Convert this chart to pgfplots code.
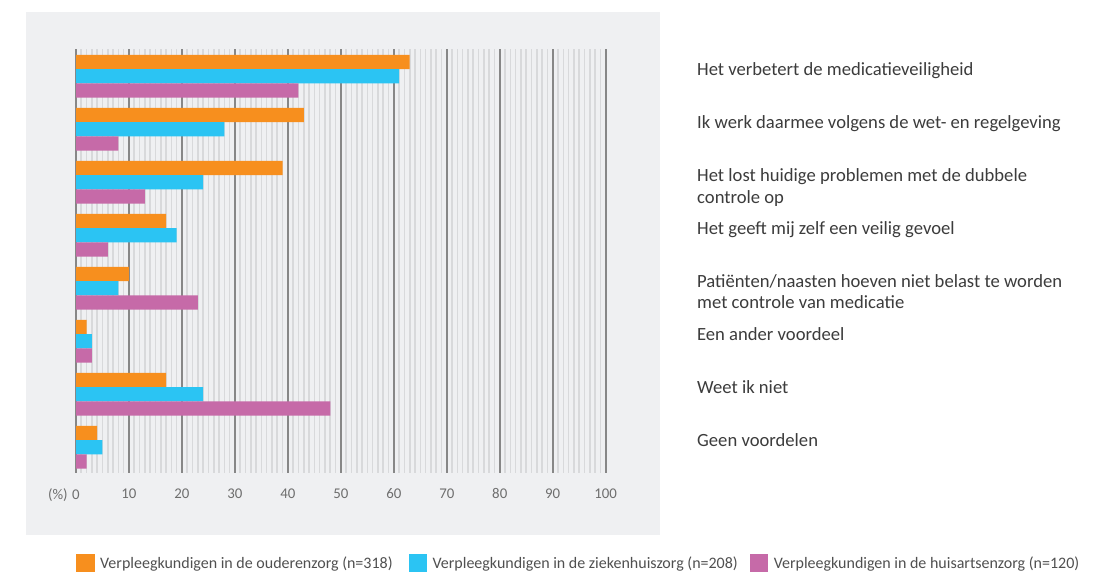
\documentclass[border=0pt]{standalone}
\usepackage{fontspec}
\setmainfont{Carlito}
\usepackage{pgfplots}
\pgfplotsset{compat=1.18}
\definecolor{cOr}{RGB}{247,143,30}
\definecolor{cBl}{RGB}{43,196,243}
\definecolor{cPu}{RGB}{198,106,168}
\definecolor{panel}{RGB}{239,240,242}
\definecolor{minorg}{RGB}{216,217,219}
\definecolor{majorg}{RGB}{135,135,135}
\definecolor{tickc}{RGB}{110,110,110}
\definecolor{txt}{RGB}{60,60,60}
\definecolor{legc}{RGB}{80,80,80}
\begin{document}
\begin{tikzpicture}[x=1bp,y=1bp]
\path[fill=white, use as bounding box] (0,0) rectangle (1119,575);
\fill[panel] (26,40) rectangle (660,563);
\begin{axis}[
  at={(76bp,102bp)}, anchor=south west, scale only axis,
  width=529.7bp, height=424bp,
  xbar, bar width=14.2bp,
  xmin=0, xmax=100, ymin=-0.5, ymax=7.5,
  axis line style={draw=none},
  xtick={0,10,...,100},
  xticklabels={\llap{(\%)\hspace{4.5bp}}0,10,20,30,40,50,60,70,80,90,100},
  minor x tick num=9,
  xmajorgrids, xminorgrids,
  major x grid style={majorg, line width=1.6bp},
  minor x grid style={minorg, line width=1.6bp},
  ytick=\empty,
  minor ytick={-0.5,0.5,...,7.5},
  yminorgrids,
  minor y grid style={white, line width=1.5bp},
  major tick length=0pt, minor tick length=0pt,
  tick label style={font=\fontsize{14.9}{16}\selectfont, text=tickc},
  xticklabel style={yshift=-12bp},
  /pgf/number format/assume math mode=true,
  legend columns=3,
  legend style={at={(0,-0.2123)}, anchor=west, draw=none, fill=none,
    inner sep=0pt, font=\fontsize{16.05}{18}\selectfont, text=legc,
    /tikz/every even column/.append style={column sep=10bp},
    /tikz/every odd column/.append style={column sep=3.4bp}},
  legend image code/.code={\fill[#1,draw=none] (0bp,-9.3bp) rectangle (18.6bp,9.3bp);},
]
\addplot[fill=cOr, draw=none, bar shift=13.4bp] coordinates {(63,7) (43,6) (39,5) (17,4) (10,3) (2,2) (17,1) (4,0)};
\addplot[fill=cBl, draw=none, bar shift=-0.8bp] coordinates {(61,7) (28,6) (24,5) (19,4) (8,3) (3,2) (24,1) (5,0)};
\addplot[fill=cPu, draw=none, bar shift=-15bp] coordinates {(42,7) (8,6) (13,5) (6,4) (23,3) (3,2) (48,1) (2,0)};
\legend{Verpleegkundigen in de ouderenzorg (n=318)\rule{4bp}{0pt},Verpleegkundigen in de ziekenhuiszorg (n=208),Verpleegkundigen in de huisartsenzorg (n=120)}
\end{axis}
\begin{scope}[every node/.style={anchor=base west, inner sep=0pt, font=\fontsize{18.7}{22}\selectfont, text=txt}]
\node at (697,499.5) {Het verbetert de medicatieveiligheid};
\node at (697,446.5) {Ik werk daarmee volgens de wet- en regelgeving};
\node at (697,393.5) {Het lost huidige problemen met de dubbele};
\node at (697,371.5) {controle op};
\node at (697,340.5) {Het geeft mij zelf een veilig gevoel};
\node at (697,287.5) {Patiënten/naasten hoeven niet belast te worden};
\node at (697,266.5) {met controle van medicatie};
\node at (697,234.5) {Een ander voordeel};
\node at (697,181.5) {Weet ik niet};
\node at (697,128.5) {Geen voordelen};
\end{scope}
\end{tikzpicture}
\end{document}
